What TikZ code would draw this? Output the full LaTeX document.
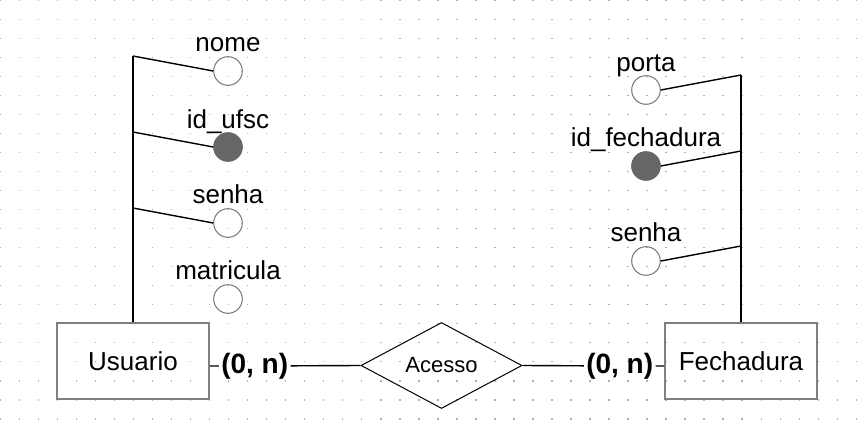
\documentclass[tikz,border=0pt]{standalone}
\usepackage{fontspec}
\setmainfont{Liberation Sans}
\usetikzlibrary{shapes.geometric}
\definecolor{dotgray}{RGB}{175,175,175}
\definecolor{boxgray}{RGB}{128,128,128}
\definecolor{keyfill}{RGB}{102,102,102}

\begin{document}
\begin{tikzpicture}[x=0.5pt, y=-0.5pt,
    entity/.style={draw=boxgray, line width=0.85pt, minimum width=76pt, minimum height=38pt, inner sep=0pt, font=\fontsize{13}{15}\selectfont},
    rel/.style={draw, diamond, aspect=2, line width=0.5pt, inner sep=1pt, minimum width=80.5pt, minimum height=43pt, font=\fontsize{11}{13}\selectfont},
    attr/.style={circle, draw=keyfill!90, line width=0.5pt, minimum size=14.3pt, inner sep=0pt},
    key/.style={attr, fill=keyfill, draw=keyfill},
    attrname/.style={anchor=base, inner sep=0pt, font=\fontsize{13}{15}\selectfont},
    card/.style={inner sep=1pt, font=\fontsize{14}{16}\selectfont\bfseries},
    link/.style={line width=0.7pt}]

  \fill[white] (0,0) rectangle (859,423);
  \useasboundingbox (0,0) rectangle (859,423);
  % grid
  \foreach \i in {0,...,45} {
    \foreach \j in {0,...,22} {
      \fill[dotgray] ({19.02*\i-0.3},{19.02*\j-0.3}) rectangle +(1.4,1.4);
    }
  }

  % entities and relation
  \node[entity] (usuario) at (133,361) {Usuario};
  \node[entity] (fechadura) at (741,361) {Fechadura};
  \node[rel] (acesso) at (441.5,365.5) {Acesso};

  % Usuario attributes
  \node[attr] (nome) at (228,71) {};
  \node[key] (idufsc) at (228,147) {};
  \node[attr] (senhaU) at (228,223) {};
  \node[attr] (matricula) at (228,299) {};
  \node[attrname] (lnome) at (228,51.5) {nome};
  \node[attrname] (lidufsc) at (228,128) {id\_ufsc};
  \node[attrname] (lsenhaU) at (228,203.5) {senha};
  \node[attrname] (lmatricula) at (228,279.5) {matricula};

  \coordinate (u1) at (133,56);
  \coordinate (u2) at (133,132);
  \coordinate (u3) at (133,208);
  \draw[link] (u1) -- (usuario.north);
  \draw[link] (u1) -- (nome.west);
  \draw[link] (u2) -- (idufsc.west);
  \draw[link] (u3) -- (senhaU.west);

  % Fechadura attributes
  \node[attr] (porta) at (646,90) {};
  \node[key] (idfech) at (646,166) {};
  \node[attr] (senhaF) at (646,261) {};
  \node[attrname] (lporta) at (646,71) {porta};
  \node[attrname] (lidfech) at (646,147) {id\_fechadura};
  \node[attrname] (lsenhaF) at (646,241.5) {senha};

  \coordinate (f1) at (741,75);
  \coordinate (f2) at (741,151);
  \coordinate (f3) at (741,246);
  \draw[link] (f1) -- (fechadura.north);
  \draw[link] (porta.east) -- (f1);
  \draw[link] (idfech.east) -- (f2);
  \draw[link] (senhaF.east) -- (f3);

  % cardinalities
  \node[card] (cardU) at (254.7,366) {(0, n)};
  \node[card] (cardF) at (619.7,366) {(0, n)};
  \draw[link] (usuario.east |- cardU) -- (cardU) -- (acesso.west);
  \draw[link] (acesso.east) -- (cardF) -- (fechadura.west |- cardF);
\end{tikzpicture}
\end{document}
